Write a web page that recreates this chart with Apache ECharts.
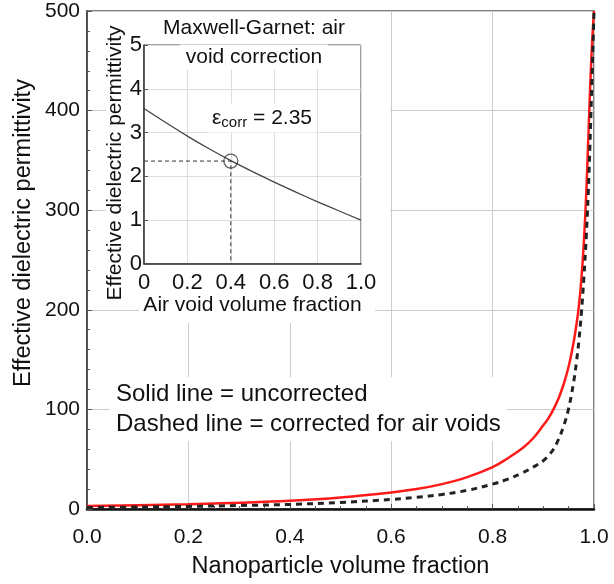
<!DOCTYPE html>
<html>
<head>
<meta charset="utf-8">
<script src="https://cdn.jsdelivr.net/npm/echarts@6/dist/echarts.min.js"></script>
<style>
  html, body { margin: 0; padding: 0; background: #fff; overflow: hidden; }
  #chart { width: 614px; height: 584px; }
</style>
</head>
<body>
<div id="chart"></div>
<script>
// main plot: nanoparticle volume fraction vs effective permittivity
var fracX = [0, 0.1, 0.2, 0.3, 0.4, 0.5, 0.6, 0.65, 0.7, 0.75, 0.8, 0.83, 0.86, 0.88, 0.9, 0.91, 0.92, 0.93, 0.94, 0.95, 0.96, 0.965, 0.97, 0.975, 0.98, 0.985, 0.99, 0.995, 1.0];
var uncorrected = [3, 3.8, 4.8, 6.2, 8.2, 11.5, 16.5, 20, 25, 32, 42, 51, 61.5, 71, 84, 91, 100, 111, 125, 143, 168, 184, 203, 230, 268, 320, 390, 455, 500];
var corrected = [1.5, 2.0, 2.6, 3.5, 4.6, 6.6, 9.6, 11.8, 14.6, 18.8, 25, 30, 36.5, 42, 48.5, 53.5, 60, 70, 83, 101, 128, 146, 168, 196, 232, 276, 335, 415, 500];

// inset: air void volume fraction
var voidX = [0, 0.1, 0.2, 0.3, 0.4, 0.5, 0.6, 0.7, 0.8, 0.9, 1.0];
var voidEps = [3.55, 3.23, 2.92, 2.63, 2.36, 2.11, 1.87, 1.64, 1.42, 1.21, 1.0];
var pickX = 0.4;
var pickEps = 2.35;

function pairs(xs, ys) {
    return xs.map(function (x, i) { return [x, ys[i]]; });
}

var font = 'Liberation Sans, Arial, sans-serif';
var dom = document.getElementById('chart');
var myChart = echarts.init(dom, null, { width: 614, height: 584 });

var option = {
    animation: false,
    textStyle: { fontFamily: font },
    grid: [
        { left: 87, right: 20, top: 11, bottom: 67, show: true, borderColor: '#555', borderWidth: 1.5 },
        { left: 144, top: 45, width: 217, height: 219, show: true, borderColor: '#444', borderWidth: 1, z: 3 }
    ],
    xAxis: [
        {
            gridIndex: 0, type: 'value', min: 0, max: 1, interval: 0.2,
            axisLine: { show: true, lineStyle: { color: '#111', width: 2.5 } },
            axisTick: { show: true, inside: true, length: 5, lineStyle: { color: '#555' } },
            minorTick: { show: true, splitNumber: 4, length: 3, lineStyle: { color: '#555' } },
            splitLine: { show: true, lineStyle: { color: '#ccc', width: 1 } },
            axisLabel: { fontSize: 21, color: '#111', margin: 18, formatter: function (v) { return v.toFixed(1); } },
            name: 'Nanoparticle volume fraction', nameLocation: 'middle', nameGap: 46,
            nameTextStyle: { fontSize: 23.5, color: '#111' }
        },
        {
            gridIndex: 1, type: 'value', min: 0, max: 1, interval: 0.2, z: 3,
            axisLine: { show: true, lineStyle: { color: '#333', width: 1.5 } },
            axisTick: { show: false },
            splitLine: { show: true, lineStyle: { color: '#ddd', width: 1 } },
            axisLabel: { fontSize: 22, color: '#111', margin: 8, formatter: function (v) { return v === 0 ? '0' : v.toFixed(1); } },
            name: 'Air void volume fraction', nameLocation: 'middle', nameGap: 31,
            nameTextStyle: { fontSize: 21, color: '#111' }
        }
    ],
    yAxis: [
        {
            gridIndex: 0, type: 'value', min: 0, max: 500, interval: 100,
            axisLine: { show: true, lineStyle: { color: '#333', width: 1.5 } },
            axisTick: { show: true, inside: true, length: 5, lineStyle: { color: '#555' } },
            minorTick: { show: true, splitNumber: 5, length: 3, lineStyle: { color: '#555' } },
            splitLine: { show: true, lineStyle: { color: '#ccc', width: 1 } },
            axisLabel: { fontSize: 21, color: '#111', margin: 7 }
        },
        {
            gridIndex: 1, type: 'value', min: 0, max: 5, interval: 1, z: 3,
            axisLine: { show: true, lineStyle: { color: '#333', width: 1.5 } },
            axisTick: { show: true, inside: true, length: 4, lineStyle: { color: '#555' } },
            splitLine: { show: true, lineStyle: { color: '#ddd', width: 1 } },
            axisLabel: { fontSize: 22, color: '#111', margin: 2 }
        }
    ],
    graphic: [
        // white patches behind the inset
        { type: 'rect', z: 1, shape: { x: 106, y: 12, width: 284, height: 290 }, style: { fill: '#fff' } },
        { type: 'rect', z: 1, shape: { x: 139, y: 302, width: 236, height: 21 }, style: { fill: '#fff' } },
        {
            type: 'text', z: 1, x: 24, y: 233, rotation: Math.PI / 2,
            style: { text: 'Effective dielectric permittivity', font: '23.5px ' + font, fill: '#111', align: 'center', verticalAlign: 'middle' }
        },
        {
            type: 'text', z: 5, x: 115, y: 163, rotation: Math.PI / 2,
            style: { text: 'Effective dielectric permittivity', font: '21px ' + font, fill: '#111', align: 'center', verticalAlign: 'middle' }
        },
        {
            type: 'text', z: 6, x: 254, y: 28,
            style: { text: 'Maxwell-Garnet: air', font: '21px ' + font, fill: '#111', align: 'center', verticalAlign: 'middle', backgroundColor: '#fff', padding: [2, 4] }
        },
        {
            type: 'text', z: 6, x: 254, y: 57,
            style: { text: 'void correction', font: '21px ' + font, fill: '#111', align: 'center', verticalAlign: 'middle', backgroundColor: '#fff', padding: [2, 6] }
        },
        {
            type: 'text', z: 6, x: 262, y: 118,
            style: {
                text: '{e|ε}{s|corr}{e| = 2.35}',
                align: 'center', verticalAlign: 'middle',
                backgroundColor: '#fff', padding: [2, 4],
                rich: {
                    e: { fontSize: 21, fontFamily: font, fill: '#111', color: '#111' },
                    s: { fontSize: 15, fontFamily: font, fill: '#111', color: '#111', padding: [10, 0, 0, 0] }
                }
            }
        },
        {
            type: 'text', z: 1, x: 110, y: 409,
            style: {
                text: 'Solid line = uncorrected\nDashed line = corrected for air voids',
                font: '24px ' + font, lineHeight: 30, fill: '#111',
                align: 'left', verticalAlign: 'middle', backgroundColor: '#fff', padding: [2, 6]
            }
        }
    ],
    series: [
        {
            name: 'uncorrected', type: 'line', xAxisIndex: 0, yAxisIndex: 0,
            data: pairs(fracX, uncorrected), showSymbol: false, symbol: 'none',
            smooth: 0.4,
            lineStyle: { color: '#ff1a1a', width: 2.5 }, z: 3
        },
        {
            name: 'corrected', type: 'line', xAxisIndex: 0, yAxisIndex: 0,
            data: pairs(fracX, corrected), showSymbol: false, symbol: 'none',
            smooth: 0.4,
            lineStyle: { color: '#222', width: 3, type: [6, 5] }, z: 4
        },
        {
            name: 'inset', type: 'line', xAxisIndex: 1, yAxisIndex: 1,
            data: pairs(voidX, voidEps), showSymbol: false, symbol: 'none',
            smooth: 0.3, lineStyle: { color: '#444', width: 1.3 }, z: 5
        },
        {
            name: 'guide', type: 'line', xAxisIndex: 1, yAxisIndex: 1,
            data: [[0, pickEps], [pickX, pickEps], [pickX, 0]], showSymbol: false, symbol: 'none',
            lineStyle: { color: '#333', width: 1, type: [4, 3] }, z: 5
        },
        {
            name: 'pick', type: 'scatter', xAxisIndex: 1, yAxisIndex: 1,
            data: [[pickX, pickEps]], symbol: 'circle', symbolSize: 14,
            itemStyle: { color: 'rgba(0,0,0,0)', borderColor: '#333', borderWidth: 1.2 }, z: 6
        }
    ]
};
if (option && typeof option === "object") {
    myChart.setOption(option, true);
}
</script>
</body>
</html>
